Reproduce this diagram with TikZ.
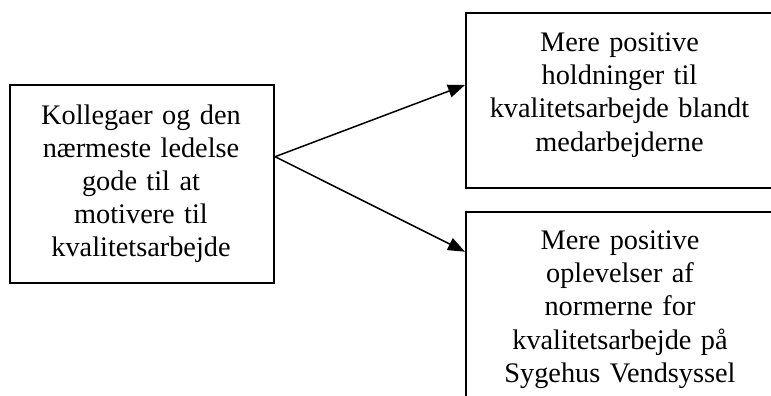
\documentclass[tikz,border=0pt]{standalone}
\usepackage{fontspec}
\setmainfont{Liberation Serif}
\usetikzlibrary{arrows.meta,calc}
\tikzset{
  boxstyle/.style={draw=black, line width=1.8pt, inner sep=0pt, anchor=north west},
  txtstyle/.style={inner sep=0pt, anchor=base, align=center, text width=300pt,
    font=\fontsize{28.3}{33.2}\selectfont},
  arrowstyle/.style={line width=1.5pt, -{Triangle[length=17pt,width=13pt]}}
}
\begin{document}
\begin{tikzpicture}[x=1pt,y=-1pt]
\clip (0,0) rectangle (771,396);
\node (L) [boxstyle, minimum width=264.3pt, minimum height=197.7pt] at (9,84) {};
\node (T) [boxstyle, minimum width=309pt, minimum height=174.4pt] at (465,12.3) {};
\node (B) [boxstyle, minimum width=309pt, minimum height=200pt] at (465,211) {};
\node (Lt) [txtstyle] at (141,124) {Kollegaer og den\\nærmeste ledelse\\gode til at\\motivere til\\kvalitetsarbejde};
\node (Tt) [txtstyle] at (619.5,51.5) {Mere positive\\holdninger til\\kvalitetsarbejde blandt\\medarbejderne};
\node (Bt) [txtstyle] at (620,249.5) {Mere positive\\oplevelser af\\normerne for\\kvalitetsarbejde på\\Sygehus Vendsyssel};
\coordinate (j) at ($(L.north east)+(0,72.7)$);
\coordinate (ta) at ($(T.north west)+(0,72.7)$);
\coordinate (tb) at ($(B.north west)+(0,40.7)$);
\draw[arrowstyle] (j) -- (ta);
\draw[arrowstyle] (j) -- (tb);
\end{tikzpicture}
\end{document}
